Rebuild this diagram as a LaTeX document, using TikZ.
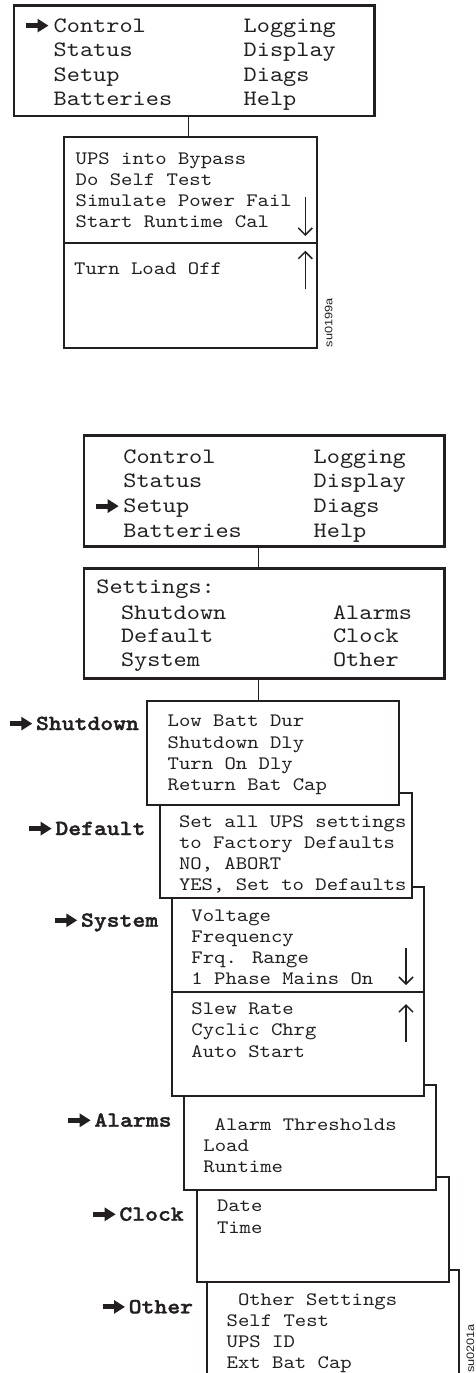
\documentclass[tikz,border=0pt]{standalone}
\usepackage{fontspec}
\newfontfamily\screenfont{lmmono10-regular.otf}[FakeStretch=1.14]
\newfontfamily\labelfont{lmmonolt10-bold.otf}[FakeStretch=1.14, FakeBold=1.6]
\newfontfamily\idfont[FakeStretch=1.18]{Liberation Sans}
\usetikzlibrary{arrows.meta}
\definecolor{inkblack}{RGB}{35,31,32}

\begin{document}
\begin{tikzpicture}[x=1pt, y=-1pt,
    menubox/.style={draw=inkblack, line width=2.7pt, fill=white, inner sep=0pt, outer sep=0pt, anchor=north west},
    subbox/.style={menubox, line width=2.2pt, minimum width=252pt, minimum height=105pt},
    menutext/.style={font=\screenfont\fontsize{22}{26}\selectfont, text=inkblack, inner sep=0pt, anchor=base west},
    subtext/.style={menutext, font=\screenfont\fontsize{19}{23}\selectfont},
    sectlabel/.style={menutext, font=\labelfont\fontsize{21.5}{25}\selectfont},
    pointer/.style={inkblack, line width=5pt, -{Triangle[length=11pt, width=13pt]}},
    scroll/.style={inkblack, line width=1.5pt, -{Straight Barb[length=7pt, width=14pt]}},
    link/.style={inkblack, line width=1.2pt},
    figid/.style={font=\idfont\fontsize{10.8}{13}\selectfont, text=inkblack, inner sep=0pt, rotate=90}]
    \useasboundingbox (0,0) rectangle (475,1373);
    \clip (0,0) rectangle (475,1373);

    % Control menu
    \node[menubox, minimum width=360.3pt, minimum height=110.3pt] (mainA) at (14,5.7) {};
    \node[subbox, line width=2.3pt, minimum width=252.7pt, minimum height=106.3pt] (ctrlTop) at (64.3,137) {};
    \node[subbox, line width=2.3pt, minimum width=252.7pt, minimum height=105pt] (ctrlBot) at (64.3,243.3) {};
    \coordinate (linkA) at (188.3,0);
    \draw[link] (mainA.south -| linkA) -- (ctrlTop.north -| linkA);

    \foreach \txt [count=\i] in {Control, Status, Setup, Batteries}
        \node[menutext] (mainA-l\i) at (53.5, {32+24.6*(\i-1)}) {\txt};
    \foreach \txt [count=\i] in {Logging, Display, Diags, Help}
        \node[menutext] (mainA-r\i) at (243.5, {32+24.6*(\i-1)}) {\txt};
    \draw[pointer] ([xshift=-28pt, yshift=6.4pt]mainA-l1.base west) -- ([xshift=-5pt, yshift=6.4pt]mainA-l1.base west);

    \foreach \txt [count=\i] in {UPS into Bypass, Do Self Test, Simulate Power Fail, Start Runtime Cal}
        \node[subtext] (ctrlTop-l\i) at (75.5, {164+21.2*(\i-1)}) {\txt};
    \node[subtext] (ctrlBot-l1) at (74, 274) {Turn Load Off};
    \draw[scroll] (305.3,196.7) -- (305.3,236);
    \draw[scroll] (305.3,289.3) -- (305.3,250.7);
    \node[figid] (idA) at (328.7,322.7) {su0199a};

    % Setup menu
    \node[menubox, minimum width=360.3pt, minimum height=111pt] (mainB) at (84,435.7) {};
    \node[menubox, minimum width=360.3pt, minimum height=110pt] (settings) at (84,568.7) {};

    % Cascade of settings screens, back to front
    \node[subbox, minimum height=110pt] (other) at (207,1270) {};
    \node[subbox] (clock) at (196.7,1177.3) {};
    \node[subbox] (alarms) at (184,1085) {};
    \node[subbox, minimum height=104pt] (systemBot) at (172,992) {};
    \node[subbox, minimum height=104.7pt] (systemTop) at (172,887.3) {};
    \node[subbox] (default) at (160,793.3) {};
    \node[subbox, minimum height=104.3pt] (shutdown) at (147,700.7) {};

    \coordinate (linkB) at (258.3,0);
    \draw[link] (mainB.south -| linkB) -- (settings.north -| linkB);
    \draw[link] (settings.south -| linkB) -- (shutdown.north -| linkB);

    \foreach \txt [count=\i] in {Control, Status, Setup, Batteries}
        \node[menutext] (mainB-l\i) at (123.2, {463.3+24.6*(\i-1)}) {\txt};
    \foreach \txt [count=\i] in {Logging, Display, Diags, Help}
        \node[menutext] (mainB-r\i) at (313.5, {463.3+24.6*(\i-1)}) {\txt};
    \draw[pointer] ([xshift=-27pt, yshift=6.4pt]mainB-l3.base west) -- ([xshift=-4.5pt, yshift=6.4pt]mainB-l3.base west);

    \node[menutext] (settings-head) at (96.2,593.3) {Settings:};
    \foreach \txt [count=\i] in {Shutdown, Default, System}
        \node[menutext] (settings-l\i) at (120.8, {619+23.5*(\i-1)}) {\txt};
    \foreach \txt [count=\i] in {Alarms, Clock, Other}
        \node[menutext] (settings-r\i) at (332.8, {619+23.5*(\i-1)}) {\txt};

    \foreach \txt [count=\i] in {Low Batt Dur, Shutdown Dly, Turn On Dly, Return Bat Cap}
        \node[subtext] (shutdown-l\i) at (167.5, {726.7+21.3*(\i-1)}) {\txt};
    \foreach \txt [count=\i] in {Set all UPS settings, to Factory Defaults, {NO, ABORT}, {YES, Set to Defaults}}
        \node[subtext] (default-l\i) at (178.8, {827.7+20.8*(\i-1)}) {\txt};
    \foreach \txt [count=\i] in {Voltage, Frequency, Frq. Range, 1 Phase Mains On}
        \node[subtext] (systemTop-l\i) at (191.2, {921.7+20.8*(\i-1)}) {\txt};
    \foreach \txt [count=\i] in {Slew Rate, Cyclic Chrg, Auto Start}
        \node[subtext] (systemBot-l\i) at (191.2, {1014.3+21.5*(\i-1)}) {\txt};
    \draw[scroll] (406,948) -- (406,985);
    \draw[scroll] (406,1041.7) -- (406,1004);

    \node[subtext] (alarms-head) at (214.5,1130.7) {Alarm Thresholds};
    \node[subtext] (alarms-l1) at (203.2,1151.7) {Load};
    \node[subtext] (alarms-l2) at (203.2,1172.7) {Runtime};
    \node[subtext] (clock-l1) at (216.8,1211.7) {Date};
    \node[subtext] (clock-l2) at (216.8,1233.3) {Time};
    \node[subtext] (other-head) at (237.8,1305.7) {Other Settings};
    \foreach \txt [count=\i] in {Self Test, UPS ID, Ext Bat Cap}
        \node[subtext] (other-l\i) at (226.5, {1326.7+20.8*(\i-1)}) {\txt};

    % Screen labels with pointers
    \foreach \name/\lx/\ly in {Shutdown/35.8/730, Default/55.2/835, System/80.8/926.7,
                               Alarms/94.2/1126.7, Clock/119.2/1220.7, Other/128.5/1313.3} {
        \node[sectlabel] (lbl-\name) at (\lx,\ly) {\name};
        \draw[pointer] ([xshift=-26pt, yshift=6.4pt]lbl-\name.base west) -- ([xshift=-3.5pt, yshift=6.4pt]lbl-\name.base west);
    }
    \node[figid] (idB) at (470.3,1348.5) {su0201a};
\end{tikzpicture}
\end{document}
